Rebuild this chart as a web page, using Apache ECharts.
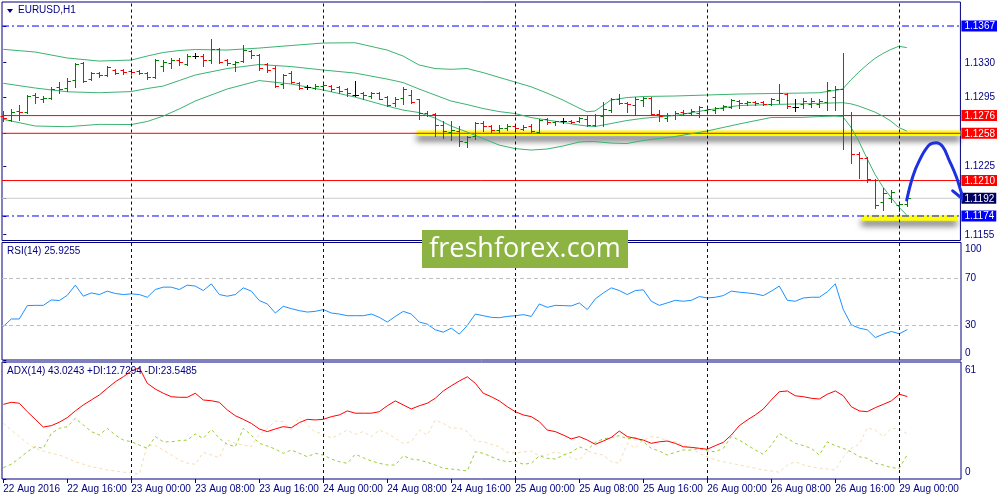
<!DOCTYPE html>
<html>
<head>
<meta charset="utf-8">
<title>EURUSD,H1</title>
<script src="https://cdn.jsdelivr.net/npm/echarts@6/dist/echarts.min.js"></script>
<style>
html,body{margin:0;padding:0;background:#fff;}
#chart{width:1000px;height:500px;}
</style>
</head>
<body>
<div id="chart"></div>
<script>
// hourly bars, index 0 = 22 Aug 08:00 ... 113 = 29 Aug 01:00
var opens = [
 1.1276,1.1272,1.1281,1.1280,1.1297,1.1293,1.1294,1.1305,1.1304,1.1312,
 1.1329,1.1313,1.1319,1.1317,1.1322,1.1322,1.1321,1.1321,1.1319,1.1315,
 1.1326,1.1329,1.1332,1.1328,1.1337,1.1337,1.1332,1.1344,1.1332,1.1328,
 1.1331,1.1342,1.1338,1.1328,1.1324,1.1308,1.1319,1.1309,1.1305,1.1304,
 1.1306,1.1306,1.1305,1.1303,1.1297,1.1299,1.1296,1.1299,1.1295,1.1289,
 1.1294,1.1297,1.1293,1.1279,1.1278,1.1266,1.1259,1.1260,1.1249,1.1255,
 1.1268,1.1265,1.1261,1.1263,1.1265,1.1262,1.1265,1.1259,1.1273,1.1269,
 1.1271,1.1271,1.1270,1.1273,1.1266,1.1276,1.1282,1.1293,1.1289,1.1287,
 1.1292,1.1294,1.1278,1.1274,1.1277,1.1280,1.1279,1.1279,1.1282,1.1282,
 1.1284,1.1285,1.1291,1.1289,1.1290,1.1290,1.1288,1.1292,1.1298,1.1285,
 1.1288,1.1288,1.1288,1.1290,1.1295,1.1303,1.1277,1.1237,1.1233,1.1211,
 1.1188,1.1192,1.1185,1.1186];
var highs = [
 1.1281,1.1283,1.1287,1.1297,1.1299,1.1296,1.1305,1.1310,1.1314,1.1329,
 1.1330,1.1320,1.1320,1.1326,1.1323,1.1323,1.1323,1.1322,1.1320,1.1333,
 1.1332,1.1334,1.1335,1.1339,1.1340,1.1339,1.1354,1.1345,1.1333,1.1331,
 1.1348,1.1343,1.1339,1.1329,1.1326,1.1318,1.1321,1.1310,1.1307,1.1308,
 1.1308,1.1307,1.1306,1.1304,1.1311,1.1300,1.1300,1.1300,1.1296,1.1295,
 1.1305,1.1302,1.1293,1.1281,1.1279,1.1270,1.1270,1.1265,1.1255,1.1269,
 1.1270,1.1266,1.1266,1.1267,1.1266,1.1266,1.1267,1.1273,1.1274,1.1271,
 1.1274,1.1272,1.1275,1.1277,1.1278,1.1290,1.1294,1.1298,1.1290,1.1295,
 1.1295,1.1295,1.1282,1.1279,1.1281,1.1282,1.1283,1.1286,1.1284,1.1285,
 1.1287,1.1293,1.1292,1.1291,1.1291,1.1291,1.1294,1.1308,1.1299,1.1293,
 1.1294,1.1294,1.1293,1.1310,1.1306,1.1340,1.1280,1.1239,1.1234,1.1212,
 1.1202,1.1200,1.1188,1.1199];
var lows = [
 1.1270,1.1271,1.1272,1.1279,1.1289,1.1290,1.1293,1.1299,1.1301,1.1305,
 1.1310,1.1312,1.1315,1.1316,1.1318,1.1318,1.1318,1.1318,1.1313,1.1314,
 1.1321,1.1324,1.1327,1.1327,1.1334,1.1326,1.1329,1.1329,1.1327,1.1321,
 1.1330,1.1334,1.1322,1.1320,1.1305,1.1304,1.1309,1.1303,1.1303,1.1303,
 1.1302,1.1301,1.1299,1.1296,1.1296,1.1293,1.1294,1.1293,1.1286,1.1286,
 1.1288,1.1289,1.1273,1.1276,1.1255,1.1253,1.1251,1.1245,1.1244,1.1252,
 1.1260,1.1259,1.1259,1.1261,1.1261,1.1261,1.1259,1.1258,1.1267,1.1266,
 1.1268,1.1268,1.1269,1.1265,1.1265,1.1265,1.1280,1.1288,1.1280,1.1277,
 1.1286,1.1277,1.1271,1.1270,1.1273,1.1277,1.1277,1.1275,1.1279,1.1279,
 1.1282,1.1284,1.1284,1.1287,1.1287,1.1287,1.1287,1.1289,1.1284,1.1281,
 1.1284,1.1285,1.1285,1.1282,1.1282,1.1242,1.1228,1.1213,1.1209,1.1182,
 1.1180,1.1188,1.1179,1.1184];
var closes = [
 1.1274,1.1280,1.1280,1.1296,1.1295,1.1294,1.1303,1.1303,1.1311,1.1328,
 1.1311,1.1319,1.1317,1.1325,1.1319,1.1320,1.1320,1.1319,1.1315,1.1332,
 1.1330,1.1332,1.1330,1.1337,1.1337,1.1332,1.1344,1.1330,1.1329,1.1330,
 1.1343,1.1338,1.1324,1.1322,1.1306,1.1317,1.1310,1.1304,1.1305,1.1306,
 1.1307,1.1303,1.1301,1.1299,1.1297,1.1297,1.1299,1.1293,1.1287,1.1293,
 1.1303,1.1290,1.1279,1.1277,1.1266,1.1260,1.1261,1.1250,1.1254,1.1268,
 1.1265,1.1261,1.1263,1.1265,1.1263,1.1264,1.1260,1.1272,1.1269,1.1270,
 1.1271,1.1269,1.1274,1.1266,1.1277,1.1283,1.1293,1.1289,1.1288,1.1293,
 1.1294,1.1278,1.1276,1.1277,1.1279,1.1279,1.1281,1.1285,1.1283,1.1284,
 1.1286,1.1292,1.1289,1.1290,1.1289,1.1288,1.1293,1.1299,1.1286,1.1285,
 1.1291,1.1291,1.1291,1.1302,1.1303,1.1277,1.1237,1.1233,1.1212,1.1185,
 1.1197,1.1198,1.1186,1.1192];

// Bollinger bands read at these bar indices
var bandIdx = [0,4,8,12,16,18,20,22,24,28,32,36,40,44,48,50,52,54,56,58,60,62,64,66,68,70,72,73,74,76,78,80,84,88,92,96,100,102,104,105,106,107,108,109,110,111,112,113];
var bandUpper = [1.13433,1.13406,1.13345,1.13314,1.13324,1.13365,1.13401,1.13421,1.13431,1.13426,1.13446,1.13472,1.13497,1.13500,1.13426,1.13365,1.13274,1.13238,1.13230,1.13238,1.13197,1.13149,1.13101,1.13053,1.12989,1.12918,1.12837,1.12799,1.12806,1.12918,1.12943,1.12954,1.12959,1.12969,1.12979,1.12984,1.12989,1.12992,1.13015,1.13030,1.13121,1.13202,1.13274,1.13340,1.13390,1.13431,1.13464,1.13451];
var bandMiddle = [1.13088,1.13040,1.13002,1.12992,1.13004,1.13035,1.13060,1.13116,1.13172,1.13238,1.13279,1.13258,1.13223,1.13192,1.13131,1.13096,1.13030,1.12969,1.12908,1.12872,1.12832,1.12801,1.12781,1.12740,1.12715,1.12690,1.12664,1.12654,1.12649,1.12679,1.12710,1.12732,1.12761,1.12816,1.12862,1.12872,1.12880,1.12884,1.12889,1.12891,1.12880,1.12857,1.12827,1.12796,1.12755,1.12705,1.12639,1.12603];
var bandLower = [1.12722,1.12654,1.12647,1.12671,1.12669,1.12700,1.12755,1.12827,1.12908,1.13030,1.13116,1.13081,1.13020,1.12948,1.12857,1.12816,1.12791,1.12735,1.12654,1.12593,1.12527,1.12461,1.12425,1.12410,1.12420,1.12451,1.12491,1.12496,1.12496,1.12481,1.12476,1.12507,1.12547,1.12603,1.12674,1.12740,1.12742,1.12750,1.12755,1.12750,1.12644,1.12501,1.12330,1.12166,1.12037,1.11932,1.11831,1.11750];

var rsi = [
 28.5,34.9,34.9,46.3,46.5,46.5,51.1,50.6,55.1,63.7,
 54.3,57.1,55.7,58.6,56.6,55.7,56.3,55.7,53.4,60,
 62,62,60,63.7,62.9,59.1,64.8,55.7,54.3,55.7,
 61.4,58.6,50.6,47.7,40,45.7,43.7,42,40.8,41.4,
 42.9,40,39.1,37.7,37.7,37.7,39.1,36.3,32.3,37.1,
 41.4,39.1,32.3,30.5,25.7,23.7,27.1,22,29.4,39.1,
 37.7,36.3,36,37.1,37.7,38.6,37.1,47.7,44.8,46.5,
 46.3,46,48.6,42.9,52,57.1,61.4,59.1,55.7,59.1,
 59.7,50,46.5,48.6,50.8,50,50.8,54,52.8,53.4,
 54.8,58.6,57.7,57.1,56.3,54.8,58.6,62.9,50.8,50,
 52.8,53.4,53.4,58,64.8,42.9,30,27.1,25.7,19.1,
 22,24.3,22.3,25.9];
var adx = [
 38.9,40,39.5,35.1,31.1,27.1,27.8,29.6,32,35.5,
 38.6,41.2,43.8,47.3,50.7,53.3,56.3,58,49.9,46.9,
 44.7,42.9,42.6,42.6,44.7,41.2,40.8,40,36,33,
 31.1,29,26.1,24.7,26.1,27.3,26.7,29.4,31.1,30.8,
 31.1,32.5,33.4,35.5,34.3,34.3,34.3,35.1,38.2,40.7,
 38.6,36.5,38.2,39.5,42.1,45.9,48.6,51.1,53.3,49.9,
 44.7,42.9,40.7,37.7,35.1,33.4,32.5,29.9,25.5,24.7,
 22.9,20.9,22.1,20.3,18.1,19.8,21.7,25,22.1,21.2,
 20.3,18.6,19.4,19.8,18.6,16.8,16.5,16,15.5,17.4,
 19.1,22.9,27.8,30.8,33.4,36.5,41.2,45.5,45.9,43.4,
 42.9,42.1,41.7,44.2,45.9,43.4,37.7,35.5,35.1,37.2,
 38.9,40.7,44.2,43.0];
var plusDI = [
 5.9,7.7,10.8,14.2,16.8,16,23.8,26.4,27.3,31.6,
 28.2,24.7,22.9,26.4,22.9,20.3,19.4,17.7,16,22.1,
 19.4,19.4,20,20.3,23.5,21.2,25.9,21.2,18.1,16.8,
 26.4,22.9,18.6,17.2,15.6,13.4,15.1,13.4,11.6,13.4,
 12.5,10.4,9,8.2,12.9,11.1,9.4,8.2,7.3,7.3,
 12.1,10.4,9.9,8.7,7.3,5.6,5.2,4.7,4.2,14.2,
 13.4,11.6,9.9,9,9.4,7.7,8.2,12.1,10.8,10.4,
 12.5,13.9,16.8,15.1,19.1,20.9,21.6,22.6,20.9,21.6,
 19.4,16,14.6,12.5,13.9,15.1,15.1,16,14.6,14.2,
 16,22.1,20.3,17.7,15.1,12.9,17.7,23.8,21.2,18.6,
 17.4,16,12.5,19.4,17.4,16,14.2,11.6,10.8,8.2,
 7.3,5.9,5.6,12.7];
var minusDI = [
 29,25.5,22.1,18.6,16,14.6,13.4,12.5,10.8,9,
 7.7,6.4,5.6,4.7,4.2,3.5,3.5,2.5,17.7,17.4,
 15.1,12.5,9.9,8.2,7.7,13.9,12.5,11.1,20.3,18.6,
 17.7,16.8,23.3,26.4,30.2,29.9,25.5,32.5,28.2,24.3,
 23.8,21.2,23.3,25.5,23.3,24.7,22.1,25.5,23.8,21.2,
 18.6,19.4,25.5,22.9,30.8,29,26.4,26.7,24.7,19.8,
 19.4,18.1,16.8,13.9,13.4,14.2,14.6,12.1,12.5,14.2,
 12.9,11.1,9.9,14.6,13.4,12.5,9,8.2,18.6,16,
 20.3,22.1,21.6,19.8,19.4,17.7,16,13.4,11.6,9.9,
 9,8.2,7.3,6.4,5.6,4.7,4.2,3.5,7.3,9,
 7.3,6.4,5.6,5.2,4.7,11.6,16,18.1,26.7,25.5,
 22.1,26.4,26.1,23.5];

// time axis labels
var labelBars = [0,8,16,24,32,40,48,56,64,72,80,88,96,104,112];
var timeLabels = ['22 Aug 2016','22 Aug 16:00','23 Aug 00:00','23 Aug 08:00','23 Aug 16:00','24 Aug 00:00','24 Aug 08:00','24 Aug 16:00','25 Aug 00:00','25 Aug 08:00','25 Aug 16:00','26 Aug 00:00','26 Aug 08:00','26 Aug 16:00','29 Aug 00:00'];
var dayBreaks = [16,40,64,88,112];

// price scale labels and drawn levels
var priceTicks = [1.1155,1.1174,1.1192,1.1210,1.1225,1.1258,1.1276,1.1295,1.1330,1.1367];
var redLevels = [1.1276,1.1258,1.1210];
var blueLevels = [1.1367,1.1174];
var bidPrice = 1.1192;
var zoneStart = [51.7,107.3];
var zoneEnd = [119.71,119.3];
var zonePrice = [1.1258,1.1172];

// hand drawn forecast arrow (bar index, price)
var arrowPath = [[113,1.11902],[113.75,1.12139],[114.6,1.12308],[115.8,1.12461],[116.7,1.12484],[117.5,1.12444],[118.3,1.12308],[119.2,1.12139],[119.8,1.11986],[120.2,1.11902]];
var arrowHead = [[118.75,1.11996],[120.15,1.11902],[120.45,1.12105]];

var XMIN = -0.1625, XMAX = 119.7125;
var PMIN = 1.11491, PMAX = 1.13914;
var NAVY = '#000080';
var FONT = 'Liberation Sans, Arial, sans-serif';

var chart = echarts.init(document.getElementById('chart'));

function renderBar(params, api) {
	var i = api.value(0);
	var o = api.coord([i, api.value(1)]);
	var h = api.coord([i, api.value(2)]);
	var l = api.coord([i, api.value(3)]);
	var c = api.coord([i, api.value(4)]);
	var x = Math.round(o[0]) + 0.5;
	var col = api.value(4) > api.value(1) ? '#008000' : (api.value(4) < api.value(1) ? '#ff0000' : '#000000');
	var st = {stroke: col, lineWidth: 1};
	return {type: 'group', children: [
		{type: 'line', shape: {x1: x, y1: Math.round(h[1]), x2: x, y2: Math.round(l[1]) + 1}, style: st},
		{type: 'line', shape: {x1: x - 3, y1: Math.round(o[1]) + 0.5, x2: x, y2: Math.round(o[1]) + 0.5}, style: st},
		{type: 'line', shape: {x1: x, y1: Math.round(c[1]) + 0.5, x2: x + 3.5, y2: Math.round(c[1]) + 0.5}, style: st}
	]};
}

var boxed = {'1.1367':'blue','1.1276':'red','1.1258':'red','1.1210':'red','1.1192':'bid','1.1174':'blue'};
function boxStyle(bg) {
	return {color: bg ? '#ffffff' : NAVY, backgroundColor: bg || 'transparent', fontSize: 10, fontFamily: FONT, lineHeight: 11, padding: [1,2,0,3]};
}

var vDash = {
	symbol: ['none','none'], silent: true, label: {show: false},
	lineStyle: {color: NAVY, type: [3,3], width: 1},
	data: dayBreaks.map(function (v) { return {xAxis: v}; })
};

// horizontal level line across the whole price panel
function levelSeries(price, style, z) {
	return {
		type: 'line', xAxisIndex: 0, yAxisIndex: 0, silent: true, symbol: 'none', z: z,
		data: [[XMIN, price], [XMAX, price]], lineStyle: style
	};
}

var series = [];
zonePrice.forEach(function (p, i) {
	series.push({
		type: 'line', xAxisIndex: 0, yAxisIndex: 0, silent: true, symbol: 'none', z: 1,
		data: [[zoneStart[i], p], [zoneEnd[i], p]],
		lineStyle: {color: '#ffff00', width: 5.5, shadowColor: 'rgba(0,0,0,0.6)', shadowBlur: 6, shadowOffsetY: 5}
	});
});
series.push(levelSeries(bidPrice, {color: '#cccccc', width: 1}, 2));
blueLevels.forEach(function (v) { series.push(levelSeries(v, {color: '#0000ff', width: 1, type: [7,3,2,3]}, 2)); });
redLevels.forEach(function (v) { series.push(levelSeries(v, {color: '#ff0000', width: 1}, 2)); });
series.push({
	type: 'line', xAxisIndex: 0, yAxisIndex: 0, silent: true, symbol: 'none', z: 2,
	data: [[0, closes[0]]], lineStyle: {width: 0},
	markLine: vDash
});
[bandUpper, bandMiddle, bandLower].forEach(function (arr) {
	series.push({
		type: 'line', xAxisIndex: 0, yAxisIndex: 0, silent: true, symbol: 'none', z: 3,
		data: bandIdx.map(function (k, i) { return [k, arr[i]]; }),
		lineStyle: {color: '#3cb371', width: 1}
	});
});
series.push({
	type: 'custom', xAxisIndex: 0, yAxisIndex: 0, z: 4, silent: true,
	renderItem: renderBar,
	encode: {x: 0, y: [1,2,3,4]},
	data: opens.map(function (o, i) { return [i, o, highs[i], lows[i], closes[i]]; })
});
series.push({
	type: 'line', xAxisIndex: 0, yAxisIndex: 0, silent: true, symbol: 'none', z: 6, clip: false, smooth: 0.4,
	data: arrowPath, lineStyle: {color: '#1c30e0', width: 3, cap: 'round'}
});
series.push({
	type: 'line', xAxisIndex: 0, yAxisIndex: 0, silent: true, symbol: 'none', z: 6, clip: false,
	data: arrowHead, lineStyle: {color: '#1c30e0', width: 3, cap: 'round', join: 'round'}
});
series.push({
	type: 'line', xAxisIndex: 1, yAxisIndex: 1, silent: true, symbol: 'none', z: 3,
	data: rsi.map(function (v, i) { return [i, v]; }),
	lineStyle: {color: '#1e90ff', width: 1},
	markLine: {symbol: ['none','none'], silent: true, label: {show: false},
		data: [{yAxis: 30, lineStyle: {color: '#c0c0c0', type: [4,3], width: 1}},
		       {yAxis: 70, lineStyle: {color: '#c0c0c0', type: [4,3], width: 1}}].concat(vDash.data.map(function (d) {
		       	return {xAxis: d.xAxis, lineStyle: vDash.lineStyle}; }))}
});
series.push({
	type: 'line', xAxisIndex: 2, yAxisIndex: 2, silent: true, symbol: 'none', z: 2,
	data: minusDI.map(function (v, i) { return [i, v]; }),
	lineStyle: {color: '#f5deb3', width: 1, type: [3,3]},
	markLine: vDash
});
series.push({
	type: 'line', xAxisIndex: 2, yAxisIndex: 2, silent: true, symbol: 'none', z: 3,
	data: plusDI.map(function (v, i) { return [i, v]; }),
	lineStyle: {color: '#9acd32', width: 1, type: [3,3]}
});
series.push({
	type: 'line', xAxisIndex: 2, yAxisIndex: 2, silent: true, symbol: 'none', z: 4,
	data: adx.map(function (v, i) { return [i, v]; }),
	lineStyle: {color: '#ff0000', width: 1}
});

function gridOf(top, height) {
	return {left: 2, right: 39, top: top, height: height, show: true, borderColor: NAVY, borderWidth: 1, backgroundColor: 'transparent'};
}
function hiddenX(idx) {
	return {type: 'value', gridIndex: idx, min: XMIN, max: XMAX, show: false};
}
function sideAxis(idx, min, max, ticks, fmt, rich) {
	return {
		type: 'value', gridIndex: idx, position: 'right', min: min, max: max,
		splitLine: {show: false}, axisLine: {show: false},
		axisTick: {show: true, length: 3, customValues: ticks, lineStyle: {color: NAVY}},
		axisLabel: {customValues: ticks, margin: 1, formatter: fmt, rich: rich, color: NAVY, fontSize: 10, fontFamily: FONT}
	};
}

var option = {
	animation: false,
	backgroundColor: '#ffffff',
	grid: [gridOf(2, 238.5), gridOf(242.5, 117.5), gridOf(362, 117)],
	xAxis: [hiddenX(0), hiddenX(1), {
		type: 'value', gridIndex: 2, min: XMIN, max: XMAX,
		splitLine: {show: false}, axisLine: {show: false},
		axisTick: {show: true, length: 4, customValues: labelBars, lineStyle: {color: NAVY}},
		axisLabel: {customValues: labelBars, margin: 5, align: 'left', color: NAVY, fontSize: 10, fontFamily: FONT,
			formatter: function (v) { return timeLabels[labelBars.indexOf(Math.round(v))]; }}
	}],
	yAxis: [
		sideAxis(0, PMIN, PMAX, priceTicks, function (v) {
			var s = v.toFixed(4);
			return '{' + (boxed[s] || 'plain') + '|' + s + '}';
		}, {plain: boxStyle(null), blue: boxStyle('#0000ff'), red: boxStyle('#ff0000'), bid: boxStyle('#000060')}),
		sideAxis(1, 0, 100, [0,30,70,100], function (v) {
			return v === 100 ? '{dn|100}' : (v === 0 ? '{up|0}' : '{n|' + v + '}');
		}, {dn: {padding: [13,0,0,3], color: NAVY, fontSize: 10}, up: {padding: [0,0,14,3], color: NAVY, fontSize: 10}, n: {padding: [0,0,0,3], color: NAVY, fontSize: 10}}),
		sideAxis(2, 0, 61, [0,61], function (v) {
			return v === 61 ? '{dn|61}' : '{up|0}';
		}, {dn: {padding: [16,0,0,3], color: NAVY, fontSize: 10}, up: {padding: [0,0,14,3], color: NAVY, fontSize: 10}})
	],
	series: series,
	graphic: [
		{type: 'polygon', shape: {points: [[7,9],[13,9],[10,13]]}, style: {fill: NAVY}, z: 20},
		{type: 'text', left: 18, top: 5, style: {text: 'EURUSD,H1', fill: NAVY, font: '10px ' + FONT}, z: 20},
		{type: 'text', left: 7, top: 246, style: {text: 'RSI(14) 25.9255', fill: NAVY, font: '10px ' + FONT}, z: 20},
		{type: 'text', left: 7, top: 366, style: {text: 'ADX(14) 43.0243 +DI:12.7294 -DI:23.5485', fill: NAVY, font: '10px ' + FONT}, z: 20},
		{type: 'rect', shape: {x: 422, y: 230, width: 206, height: 38}, style: {fill: '#8db443'}, z: 30},
		{type: 'text', x: 525, y: 249, style: {text: 'freshforex.com', fill: '#ffffff', font: '27px "Open Sans"', align: 'center', verticalAlign: 'middle'}, z: 31}
	]
};
chart.setOption(option);
</script>
</body>
</html>
